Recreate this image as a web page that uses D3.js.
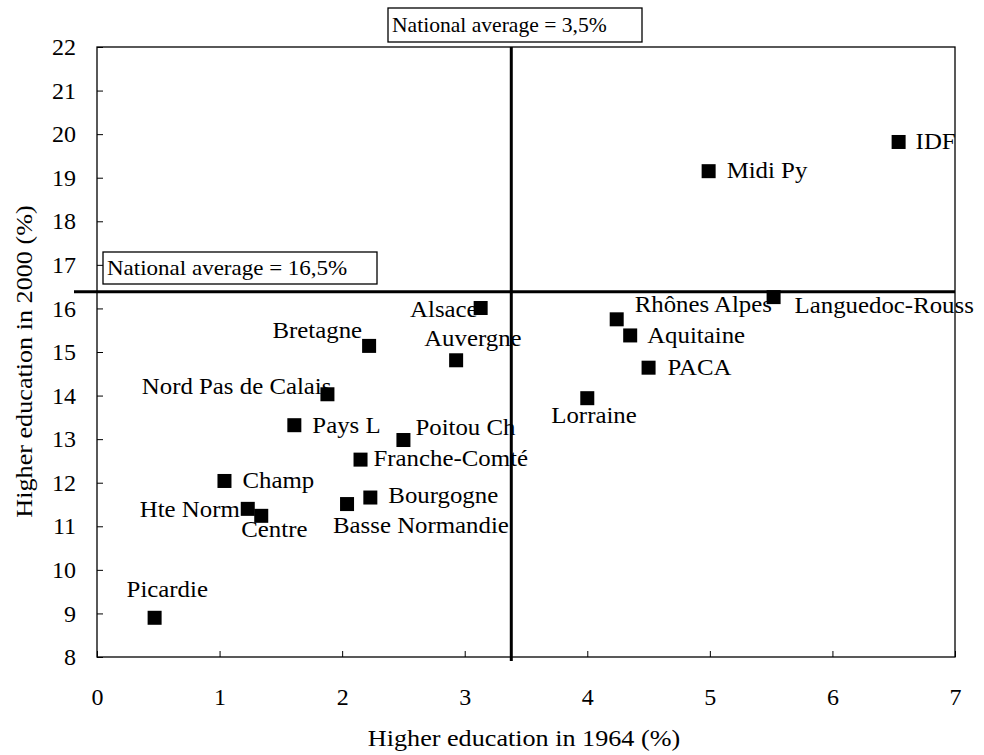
<!DOCTYPE html>
<html><head><meta charset="utf-8">
<script src="https://cdn.jsdelivr.net/npm/d3@7"></script>
<style>body{margin:0;background:#fff}svg{display:block}</style>
</head><body>
<script>
const regions = ["Picardie","Champ","Hte Norm","Centre","Pays L","Nord Pas de Calais","Bretagne","Franche-Comté","Basse Normandie","Bourgogne","Poitou Ch","Auvergne","Alsace","Lorraine","Rhônes Alpes","Aquitaine","PACA","Languedoc-Rouss","Midi Py","IDF"];
const edu1964 = [0.47,1.04,1.23,1.34,1.61,1.88,2.22,2.15,2.04,2.23,2.50,2.93,3.13,4.00,4.24,4.35,4.50,5.52,4.99,6.54];
const edu2000 = [8.90,12.04,11.40,11.24,13.32,14.03,15.14,12.53,11.51,11.66,12.98,14.81,16.01,13.94,15.75,15.38,14.64,16.26,19.15,19.82];
const xTicks = [0,1,2,3,4,5,6,7];
const yTicks = [8,9,10,11,12,13,14,15,16,17,18,19,20,21,22];
const avg1964 = 3.38, avg2000 = 16.38;
const avgLabelX = "National average = 3,5%";
const avgLabelY = "National average = 16,5%";
const xTitle = "Higher education in 1964 (%)";
const yTitle = "Higher education in 2000 (%)";

// label placement (pixel offsets from marker, anchor)
const labelLayout = {
 "Picardie":[-28,-21,"start"],"Champ":[18,7,"start"],"Hte Norm":[-108,8,"start"],"Centre":[-20,21,"start"],
 "Pays L":[18,8,"start"],"Nord Pas de Calais":[4,0,"end"],"Bretagne":[-7,-8,"end"],"Franche-Comté":[13,6,"start"],
 "Basse Normandie":[-14,29,"start"],"Bourgogne":[18,5,"start"],"Poitou Ch":[12,-5,"start"],"Auvergne":[-32,-14,"start"],
 "Alsace":[-3,9,"end"],"Lorraine":[-36,25,"start"],"Rhônes Alpes":[18,-7,"start"],"Aquitaine":[17,8,"start"],
 "PACA":[19,7,"start"],"Languedoc-Rouss":[21,16,"start"],"Midi Py":[18,7,"start"],"IDF":[17,7,"start"]
};

const FONT = "'Liberation Serif','Times New Roman',serif";
const W=984,H=755;
const L=97,R=955,T=47,B=657;
const svg=d3.select("body").append("svg").attr("width",W).attr("height",H);
const x=d3.scaleLinear().domain([0,7]).range([L,R]);
const y=d3.scaleLinear().domain([8,22]).range([B,T]);

const data=regions.map((r,i)=>({r,x:edu1964[i],y:edu2000[i]}));

// frame
svg.append("rect").attr("x",L).attr("y",T).attr("width",R-L).attr("height",B-T).attr("fill","none").attr("stroke","#000").attr("stroke-width",1.3);

// axes
const xAxis=svg.append("g").attr("transform",`translate(0,${B})`).call(d3.axisBottom(x).tickValues(xTicks).tickSizeInner(-6).tickSizeOuter(0).tickPadding(31).tickFormat(d3.format("d")));
const yAxis=svg.append("g").attr("transform",`translate(${L},0)`).call(d3.axisLeft(y).tickValues(yTicks).tickSizeInner(-6).tickSizeOuter(0).tickPadding(21).tickFormat(d3.format("d")));
[xAxis,yAxis].forEach(g=>{g.attr("font-family",null).attr("font-size",null);g.select(".domain").remove();g.selectAll("line").attr("stroke","#000").attr("stroke-width",1);g.selectAll("text").style("font-family",FONT).style("font-size","24px").attr("fill","#000");});

// average lines
svg.append("line").attr("x1",x(avg1964)).attr("x2",x(avg1964)).attr("y1",T).attr("y2",B+4).attr("stroke","#000").attr("stroke-width",3);
svg.append("line").attr("x1",L-23).attr("x2",R).attr("y1",y(avg2000)).attr("y2",y(avg2000)).attr("stroke","#000").attr("stroke-width",3);

function stxt(px,py,t,fs,sx,anchor,rot){
 return svg.append("text").attr("transform",`translate(${px},${py})${rot?` rotate(${rot})`:""} scale(${sx},1)`)
  .attr("text-anchor",anchor||"start").style("font-family",FONT).style("font-size",fs+"px").attr("fill","#000").text(t);
}

// average label boxes
function box(x0,y0,w,h,t,sx){
 svg.append("rect").attr("x",x0).attr("y",y0).attr("width",w).attr("height",h).attr("fill","#fff").attr("stroke","#000").attr("stroke-width",1.3);
 stxt(x0+4,y0+h/2+7,t,20,sx);
}
box(388,8,254,34,avgLabelX,1.08);
box(103,252,274,32,avgLabelY,1.15);

// markers
svg.append("g").selectAll("rect").data(data).join("rect")
 .attr("x",d=>x(d.x)-7).attr("y",d=>y(d.y)-7).attr("width",14).attr("height",14).attr("fill","#000");

// labels
data.forEach(d=>{const o=labelLayout[d.r];stxt(x(d.x)+o[0],y(d.y)+o[1],d.r,23,1.08,o[2]);});

// titles
stxt(524,746,xTitle,24,1.09,"middle");
stxt(32,(205+518)/2,yTitle,24,1.09,"middle",-90);
</script>
</body></html>
